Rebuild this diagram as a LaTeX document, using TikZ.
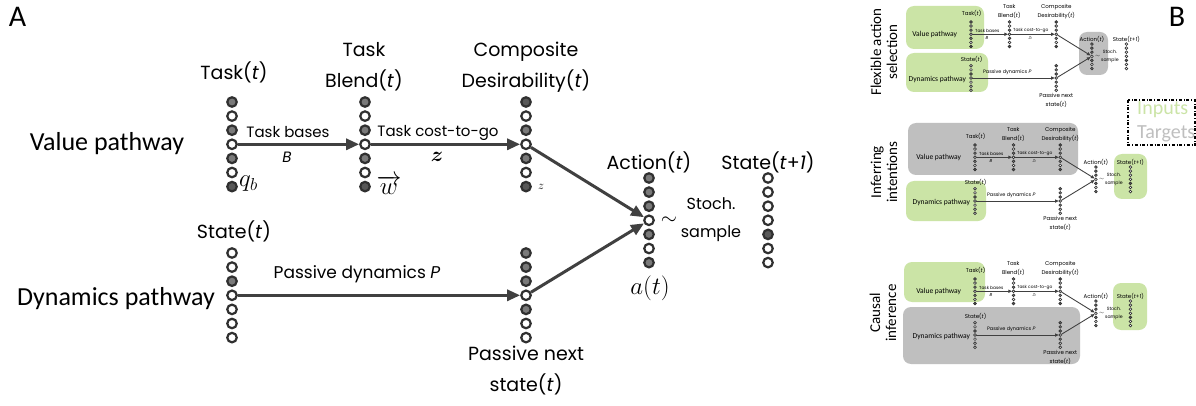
\documentclass[tikz,border=0pt]{standalone}
\usepackage{fontspec}
\usepackage{amsmath}
\usepackage{bm}
\setmainfont{Carlito}
\newfontfamily\fut{Poppins}
\usetikzlibrary{arrows.meta}
\definecolor{ringc}{HTML}{303030}
\definecolor{dotg}{HTML}{7A7A7A}
\definecolor{dotd}{HTML}{585858}
\colorlet{dotw}{white}
\definecolor{arrc}{HTML}{404040}
\definecolor{grn}{HTML}{CBE4A6}
\definecolor{gry}{HTML}{BFBFBF}
\newcommand{\fs}[2]{\fontsize{#1}{#2}\selectfont}
\newcommand{\dotcol}[4]{\foreach \f [count=\i] in {#4} {\node[dotnode, fill=dot\f] (#1\i) at (#2, {#3+14.1*(\i-1)}) {};}}
\newcommand{\diag}[5]{%
\begin{scope}[shift={(#2,#3)}, scale=#4, transform shape]
\pgfmathsetmacro\lw{3*#4}
\pgfmathsetmacro\dl{2.2*#4}
\tikzset{dotnode/.style={circle, inner sep=0pt, minimum size=9.5pt, draw=ringc, line width=\dl pt},
  arr/.style={draw=arrc, line width=\lw pt, -{Triangle[length=13pt,width=11pt,scale=#4]}},
  lab/.style={font=\fut\fs{19}{31}, align=center, inner sep=0pt},
  sml/.style={font=\fut\fs{15}{18}, inner sep=0pt},
  pth/.style={font=\fs{26}{26}, inner sep=0pt}}
\dotcol{#1T}{232}{102}{g,w,g,w,g,w,d}
\dotcol{#1W}{365}{102}{g,w,g,w,g,w,d}
\dotcol{#1Z}{526}{102}{d,w,g,w,g,w,d}
\dotcol{#1S}{232}{253}{w,w,g,w,w,w,w}
\dotcol{#1N}{526}{253}{g,g,g,w,g,w,w}
\dotcol{#1A}{649}{178}{g,g,g,w,g,w,g}
\dotcol{#1X}{768}{178}{w,w,w,w,d,w,w}
\draw[arr] (#1T4) -- (#1W4);
\draw[arr] (#1W4) -- (#1Z4);
\draw[arr] (#1S4) -- (#1N4);
\draw[arr] (#1Z4) -- (#1A4);
\draw[arr] (#1N4) -- (#1A4);
\node[lab] (#1lT) at (234,72) {Task(\textit{t})};
\node[lab] (#1lW) at (364,66.5) {Task\\Blend(\textit{t})};
\node[lab] (#1lZ) at (526,67) {Composite\\Desirability(\textit{t})};
\node[lab] (#1lS) at (234,231) {State(\textit{t})};
\node[lab] (#1lN) at (526,371) {Passive next\\state(\textit{t})};
\node[lab] (#1lA) at (649,162) {Action(\textit{t})};
\node[lab] (#1lX) at (768,162) {State(\textit{t}+\textit{1})};
\node[pth] (#1lV) at (107,144) {Value pathway};
\node[pth] (#1lD) at (116,299) {Dynamics pathway};
\node[sml] (#1tb) at (288,132) {Task bases};
\node[sml] (#1tB) at (287,157) {\textit{B}};
\node[sml] (#1tc) at (438,133) {Task cost-to-go};
\node[font=\fut\fs{17}{17}, inner sep=0pt] (#1pd) at (357,274) {Passive dynamics \textit{P}};
\node[font=\fs{20}{20}, inner sep=0pt] (#1sim) at (669,221) {$\sim$};
\node[font=\fut\fs{16}{28}, align=center, inner sep=0pt] (#1st) at (711,220) {Stoch.\\sample};
\ifnum#5=1
\node[font=\fs{24}{24}, inner sep=0pt, anchor=west] (#1qb) at (239,184) {$q_b$};
\node[font=\fs{20}{20}, inner sep=0pt] (#1bz) at (437,157) {$\bm{z}$};
\node[font=\fs{24}{24}, inner sep=0pt] (#1w) at (389,185) {$\overrightarrow{w}$};
\node[font=\fs{12}{12}, inner sep=0pt] (#1sz) at (541,187) {$z$};
\node[font=\fs{26}{26}, inner sep=0pt] (#1at) at (650,288) {$a(t)$};
\else
\node[font=\fs{15}{15}, inner sep=0pt] (#1bz) at (437,157) {$Z_t$};
\fi
\end{scope}}
\begin{document}
\begin{tikzpicture}[x=1pt,y=-1pt]
\useasboundingbox (0,0) rectangle (1196,406);
\fill[white] (0,0) rectangle (1196,406);
\tikzset{gbox/.style={fill=grn, rounded corners=8pt}, kbox/.style={fill=gry, rounded corners=8pt}}
% panel B backgrounds
\path[gbox] (906,6) rectangle (984,49);
\path[gbox] (906,53) rectangle (988,92);
\path[kbox] (1079,32) rectangle (1108,75);
\path[kbox] (908,123) rectangle (1078,175);
\path[gbox] (906,181) rectangle (986,221);
\path[gbox] (1114,154) rectangle (1147,199);
\path[gbox] (904,262) rectangle (985,302);
\path[kbox] (903,307) rectangle (1080,364);
\path[gbox] (1113,283) rectangle (1147,330);
% panels
\diag{a}{0}{0}{1}{1}
\diag{b}{903.7}{-7.6}{0.29}{0}
\diag{c}{907.7}{115.4}{0.29}{0}
\diag{d}{907.7}{249.4}{0.29}{0}
% letters
\node[font=\fs{30}{30}, inner sep=0pt] (lettA) at (17.5,17) {A};
\node[font=\fs{30}{30}, inner sep=0pt] (lettB) at (1177,17) {B};
% rotated row labels
\node[font=\fs{15}{16}, align=center, rotate=90, inner sep=0pt] (rowb) at (884,52) {Flexible action\\selection};
\node[font=\fs{15}{16}, align=center, rotate=90, inner sep=0pt] (rowc) at (884,172) {Inferring\\intentions};
\node[font=\fs{15}{16}, align=center, rotate=90, inner sep=0pt] (rowd) at (883,313) {Causal\\inference};
% legend
\draw[dash dot, line width=1.2pt] (1128,100) rectangle (1195,145);
\node[font=\fs{20}{20}, text=grn, anchor=west, inner sep=0pt] (legI) at (1137,110) {Inputs};
\node[font=\fs{20}{20}, text=gry, anchor=west, inner sep=0pt] (legT) at (1137,134) {Targets};
\end{tikzpicture}
\end{document}
